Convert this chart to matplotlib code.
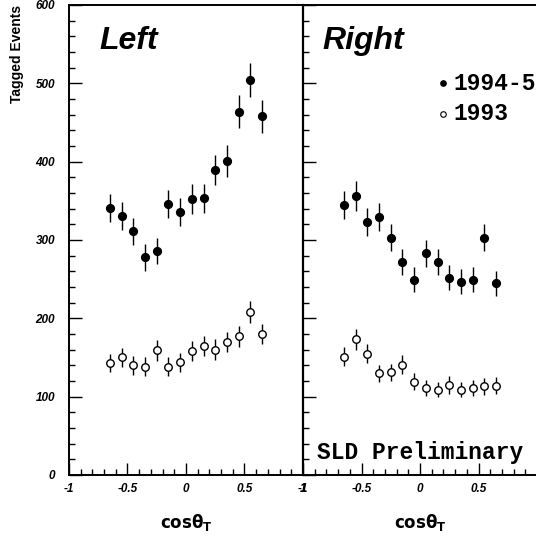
import numpy as np
import matplotlib.pyplot as plt
from matplotlib.ticker import MultipleLocator

# bin centres in cos(theta_T)
cos_t = [-0.65, -0.55, -0.45, -0.35, -0.25, -0.15, -0.05,
         0.05, 0.15, 0.25, 0.35, 0.45, 0.55, 0.65]

# Left-handed beam
left_9495 = [341, 331, 311, 278, 286, 346, 336, 352, 353, 389, 401, 464, 504, 458]
left_9495_err = [18, 18, 17, 17, 17, 18, 18, 19, 19, 19, 20, 21, 22, 21]
left_93 = [143, 150, 140, 138, 159, 138, 144, 158, 165, 160, 170, 177, 208, 180]
left_93_err = [12, 12, 12, 12, 13, 12, 12, 13, 13, 13, 13, 13, 14, 13]

# Right-handed beam
right_9495 = [345, 356, 323, 329, 303, 272, 249, 283, 272, 252, 247, 249, 303, 245]
right_9495_err = [18, 19, 18, 18, 17, 17, 16, 17, 17, 16, 16, 16, 17, 16]
right_93 = [151, 173, 155, 130, 131, 141, 119, 111, 109, 115, 109, 111, 113, 114]
right_93_err = [12, 13, 12, 11, 11, 12, 11, 10, 10, 11, 10, 10, 11, 11]

xtick_pos = [-1, -0.5, 0, 0.5, 1]
xtick_lab_left = ['-1', '-0.5', '0', '0.5', '1']
xtick_lab_right = ['-1', '-0.5', '0', '0.5', '']
ytick_pos = [0, 100, 200, 300, 400, 500, 600]

tick_font = dict(family='Liberation Sans', weight='bold', style='italic', size=8.5)

fig = plt.figure(figsize=(5.36, 5.37), dpi=100)
ax_l = fig.add_axes([0.1287, 0.1155, 0.4366, 0.8752])
ax_r = fig.add_axes([0.5653, 0.1155, 0.4366, 0.8752], sharey=ax_l)


def draw_panel(ax, y_new, e_new, y_old, e_old, title, title_x, xlabels):
    ax.errorbar(cos_t, y_new, yerr=e_new, fmt='o', color='black', ms=5.6,
                elinewidth=1.0, capsize=0)
    ax.errorbar(cos_t, y_old, yerr=e_old, fmt='o', color='black', mfc='white',
                mec='black', mew=1.0, ms=5.4, elinewidth=1.0, capsize=0)
    ax.set_xlim(-1, 1)
    ax.set_ylim(0, 600)
    ax.xaxis.set_minor_locator(MultipleLocator(0.1))
    ax.yaxis.set_major_locator(MultipleLocator(100))
    ax.yaxis.set_minor_locator(MultipleLocator(20))
    ax.tick_params(which='both', direction='in', top=False, right=False, width=1.0)
    ax.tick_params(which='major', length=9, pad=6)
    ax.tick_params(which='minor', length=4.5)
    ax.set_xticks(xtick_pos)
    ax.set_xticklabels(xlabels, fontdict=tick_font)
    for s in ['left', 'bottom', 'top']:
        ax.spines[s].set_linewidth(1.4)
    ax.spines['right'].set_visible(False)
    ax.set_xlabel(r'$\mathbf{cos\theta_T}$', fontsize=12, labelpad=12)
    ax.text(title_x, 0.955, title, transform=ax.transAxes, fontsize=23,
            fontweight='bold', style='italic', family='Liberation Sans',
            va='top', ha='left')


draw_panel(ax_l, left_9495, left_9495_err, left_93, left_93_err, 'Left', 0.13,
           xtick_lab_left)
draw_panel(ax_r, right_9495, right_9495_err, right_93, right_93_err, 'Right', 0.085,
           xtick_lab_right)

ax_l.set_yticks(ytick_pos)
ax_l.set_yticklabels([str(v) for v in ytick_pos], fontdict=tick_font)
ax_l.tick_params(axis='y', which='major', pad=10)
plt.setp(ax_r.get_yticklabels(), visible=False)
ax_r.spines['left'].set_linewidth(1.6)

fig.text(0.032, 0.99, 'Tagged Events', rotation=90, ha='center', va='top',
         fontsize=10, fontweight='bold', family='Liberation Sans')

# legend and label in typewriter style
mono = dict(family='Liberation Mono', weight='bold', size=16.5)
ax_r.plot([0.6], [0.833], 'o', color='black', ms=3.8, transform=ax_r.transAxes, clip_on=False)
ax_r.text(0.645, 0.833, '1994-5', transform=ax_r.transAxes, va='center', ha='left', **mono)
ax_r.plot([0.6], [0.769], 'o', color='black', mfc='white', mew=0.8, ms=4.0,
          transform=ax_r.transAxes, clip_on=False)
ax_r.text(0.645, 0.769, '1993', transform=ax_r.transAxes, va='center', ha='left', **mono)
ax_r.text(0.06, 0.048, 'SLD Preliminary', transform=ax_r.transAxes, va='center',
          ha='left', **mono)

fig.savefig('out.png', dpi=100)
